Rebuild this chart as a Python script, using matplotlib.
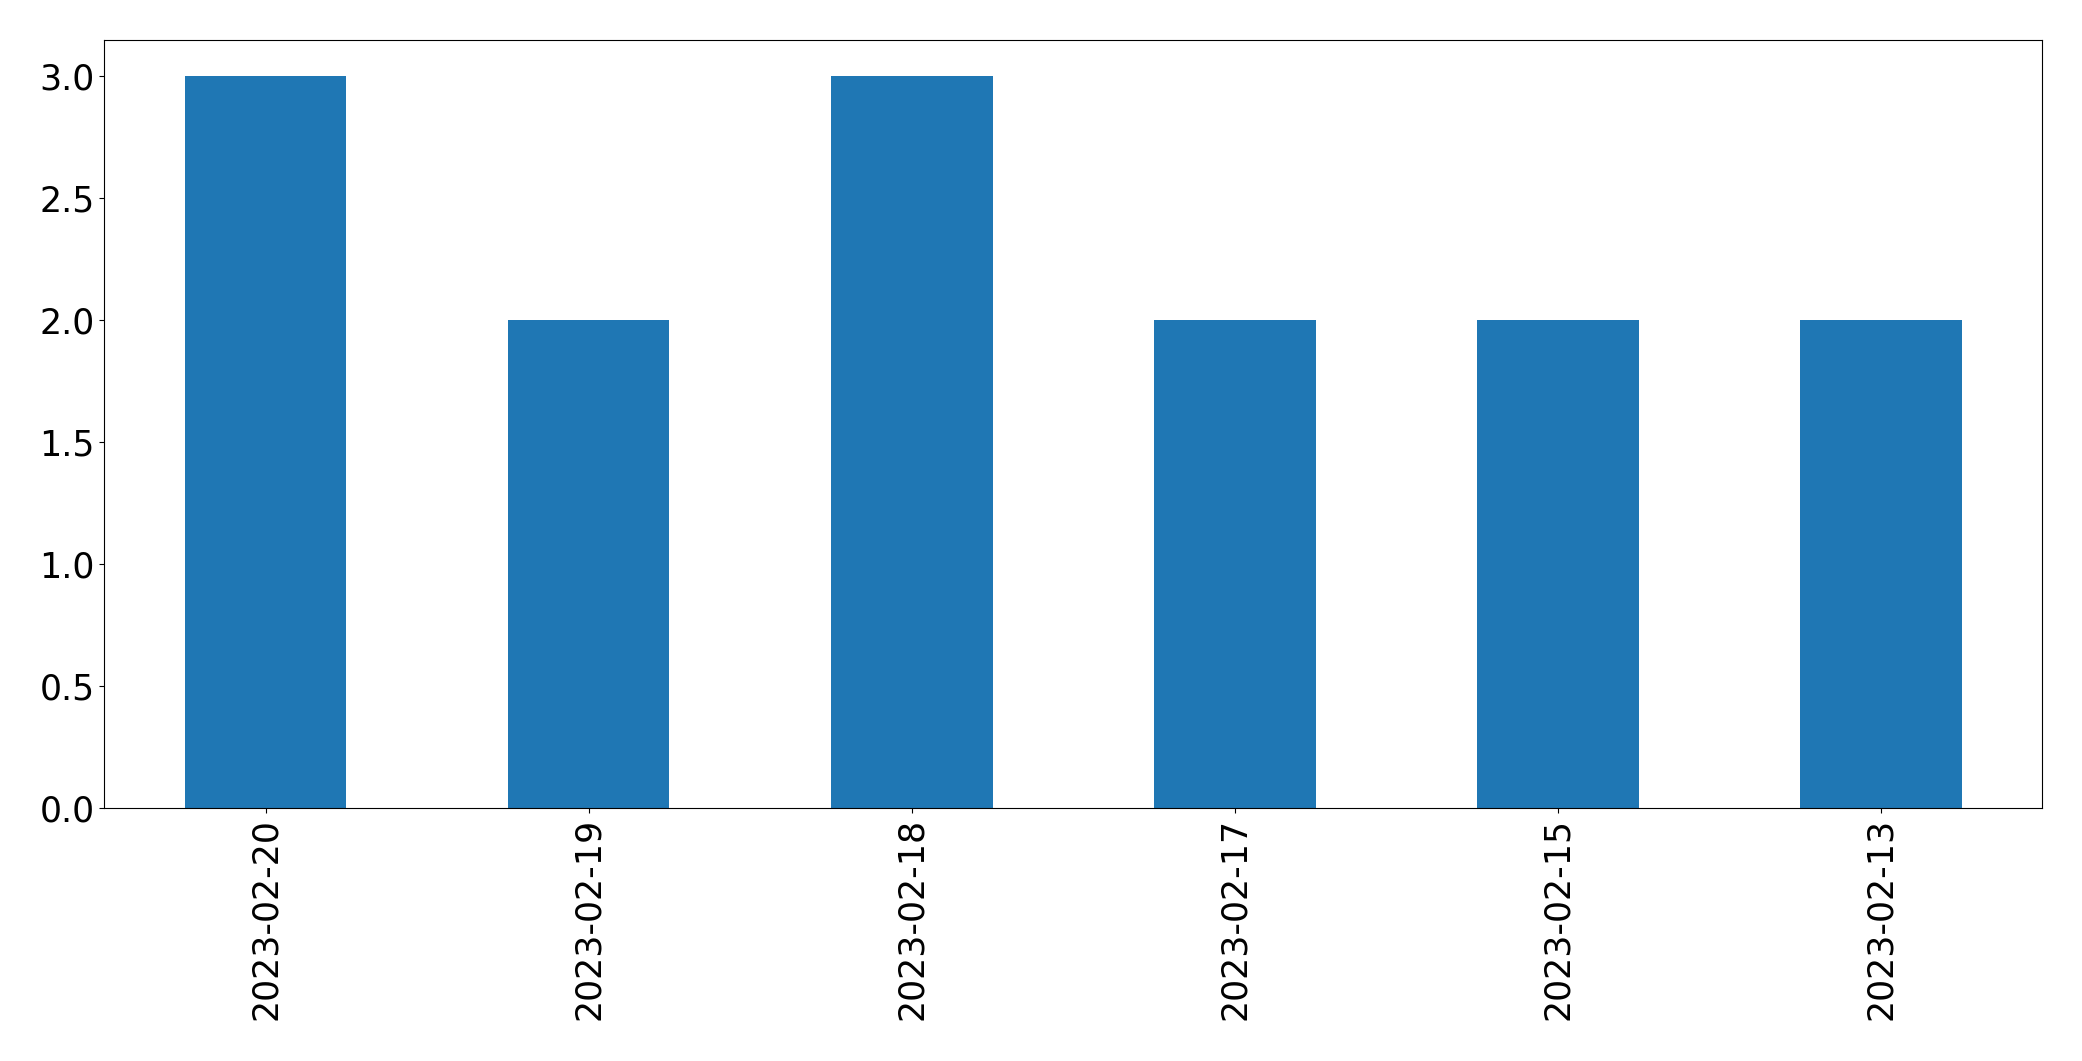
import matplotlib
matplotlib.use("Agg")
import matplotlib.pyplot as plt
import pandas as pd

dates = ["2023-02-20", "2023-02-19", "2023-02-18", "2023-02-17", "2023-02-15", "2023-02-13"]
counts = [3, 2, 3, 2, 2, 2]

fig = plt.figure(figsize=(20.82, 10.61), dpi=100)
ax = fig.add_axes([0.0500, 0.238, 0.9310, 0.7245])
s = pd.Series(counts, index=dates)
s.plot(kind="bar", ax=ax, color="#1f77b4", fontsize=25)
ax.tick_params(axis="both", labelsize=25)
fig.savefig("out.png", dpi=100)
